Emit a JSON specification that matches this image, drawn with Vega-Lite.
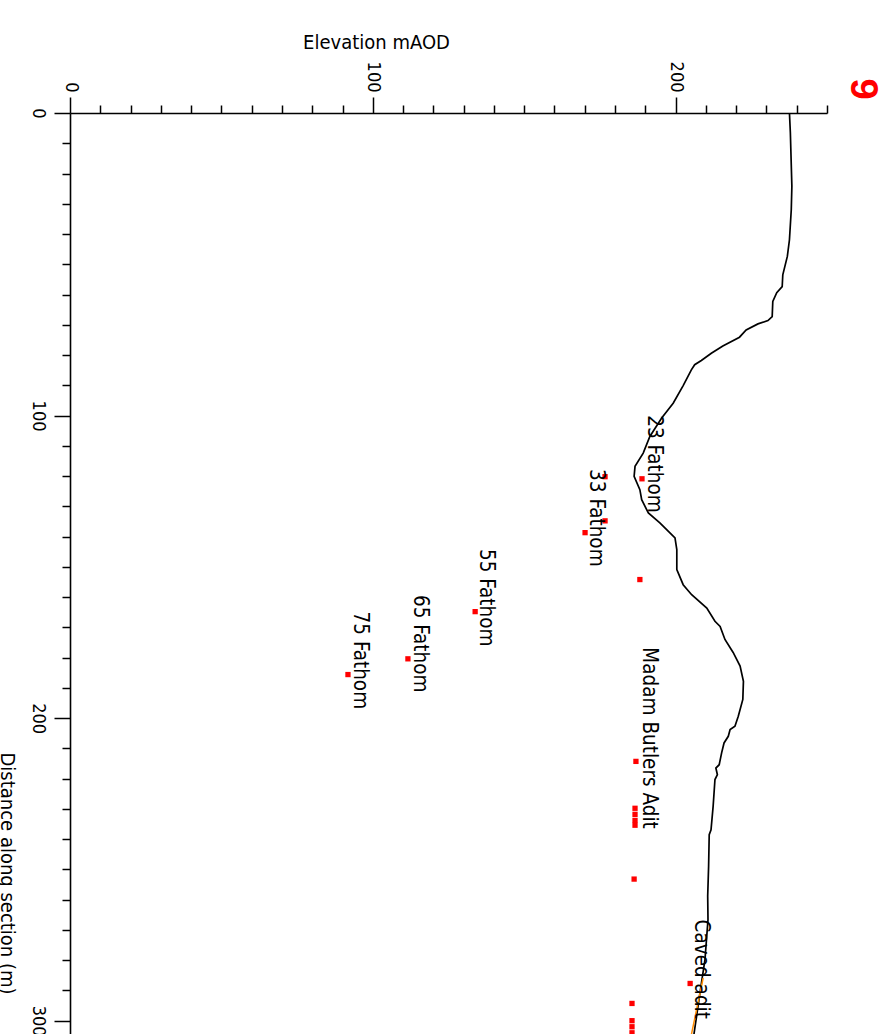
{
  "$schema": "https://vega.github.io/schema/vega-lite/v6.json",
  "autosize": {"type": "none"},
  "padding": {"left": 70, "top": 113, "right": 63, "bottom": 0},
  "width": 757,
  "height": 921,
  "background": "white",
  "config": {"view": {"stroke": null}, "font": "DejaVu Sans Condensed, DejaVu Sans"},
  "datasets": {
    "profile": [
      {"elevation": 237.6, "distance": 0}, {"elevation": 237.9, "distance": 6.5}, {"elevation": 238.4, "distance": 24.2}, {"elevation": 238.2, "distance": 32.0}, {"elevation": 237.6, "distance": 41.9}, {"elevation": 236.9, "distance": 47.4}, {"elevation": 235.4, "distance": 53.5}, {"elevation": 235.2, "distance": 57.4}, {"elevation": 233.4, "distance": 59.4}, {"elevation": 232.1, "distance": 62.3}, {"elevation": 231.9, "distance": 67.3}, {"elevation": 230.5, "distance": 68.6}, {"elevation": 227.2, "distance": 69.7}, {"elevation": 223.3, "distance": 71.7}, {"elevation": 221.1, "distance": 74.1}, {"elevation": 215.6, "distance": 77.0}, {"elevation": 211.8, "distance": 79.4}, {"elevation": 208.5, "distance": 81.8}, {"elevation": 206.3, "distance": 83.2}, {"elevation": 205.2, "distance": 84.9}, {"elevation": 202.5, "distance": 90.1}, {"elevation": 199.2, "distance": 95.9}, {"elevation": 195.4, "distance": 100.8}, {"elevation": 191.5, "distance": 106.9}, {"elevation": 189.3, "distance": 112.4}, {"elevation": 186.6, "distance": 116.8}, {"elevation": 186.3, "distance": 120.1}, {"elevation": 188.2, "distance": 124.5}, {"elevation": 188.8, "distance": 127.8}, {"elevation": 191.0, "distance": 132.2}, {"elevation": 194.8, "distance": 135.5}, {"elevation": 199.8, "distance": 140.4}, {"elevation": 200.4, "distance": 144.3}, {"elevation": 200.4, "distance": 150.9}, {"elevation": 202.5, "distance": 155.9}, {"elevation": 205.3, "distance": 159.2}, {"elevation": 210.3, "distance": 163.6}, {"elevation": 213.0, "distance": 168.0}, {"elevation": 214.7, "distance": 169.7}, {"elevation": 216.3, "distance": 174.0}, {"elevation": 219.0, "distance": 178.3}, {"elevation": 221.3, "distance": 182.8}, {"elevation": 222.4, "distance": 187.8}, {"elevation": 222.2, "distance": 193.8}, {"elevation": 220.7, "distance": 199.4}, {"elevation": 219.6, "distance": 202.7}, {"elevation": 218.0, "distance": 203.8}, {"elevation": 217.4, "distance": 206.0}, {"elevation": 216.0, "distance": 208.2}, {"elevation": 215.2, "distance": 211.5}, {"elevation": 214.4, "distance": 215.4}, {"elevation": 213.3, "distance": 216.5}, {"elevation": 213.8, "distance": 218.7}, {"elevation": 213.0, "distance": 220.3}, {"elevation": 212.4, "distance": 229.1}, {"elevation": 211.7, "distance": 236.9}, {"elevation": 211.1, "distance": 238.5}, {"elevation": 210.9, "distance": 249.0}, {"elevation": 210.6, "distance": 258.9}, {"elevation": 210.7, "distance": 266.6}, {"elevation": 209.7, "distance": 279.8}, {"elevation": 208.7, "distance": 286.4}, {"elevation": 207.4, "distance": 295.3}, {"elevation": 206.1, "distance": 304.2}, {"elevation": 205.4, "distance": 309.5}
    ],
    "adit": [
      {"elevation": 209.1, "distance": 285.9}, {"elevation": 205.3, "distance": 304.2}, {"elevation": 204.4, "distance": 309.5}
    ],
    "markers": [
      {"elevation": 188.9, "distance": 120.9}, {"elevation": 176.7, "distance": 120.2}, {"elevation": 176.7, "distance": 134.8}, {"elevation": 170.1, "distance": 138.7}, {"elevation": 188.2, "distance": 154.2}, {"elevation": 133.8, "distance": 164.8}, {"elevation": 111.6, "distance": 180.4}, {"elevation": 91.8, "distance": 185.6}, {"elevation": 186.9, "distance": 214.3}, {"elevation": 186.6, "distance": 229.8}, {"elevation": 186.6, "distance": 231.8}, {"elevation": 186.6, "distance": 233.8}, {"elevation": 186.6, "distance": 235.4}, {"elevation": 186.3, "distance": 253.2}, {"elevation": 204.8, "distance": 287.7}, {"elevation": 185.6, "distance": 294.3}, {"elevation": 185.6, "distance": 300.0}, {"elevation": 185.6, "distance": 302.0}, {"elevation": 185.6, "distance": 304.0}
    ],
    "labels": [
      {"elevation": 193.0, "distance": 116.0, "label": "23 Fathom"},
      {"elevation": 173.7, "distance": 133.8, "label": "33 Fathom"},
      {"elevation": 137.5, "distance": 160.2, "label": "55 Fathom"},
      {"elevation": 115.6, "distance": 175.4, "label": "65 Fathom"},
      {"elevation": 95.8, "distance": 180.9, "label": "75 Fathom"},
      {"elevation": 191.2, "distance": 206.6, "label": "Madam Butlers Adit"},
      {"elevation": 208.5, "distance": 283.0, "label": "Caved adit"}
    ],
    "section": [
      {"label": "9", "elevation": 261.5, "distance": -7.9}
    ]
  },
  "encoding": {
    "x": {"field": "elevation", "type": "quantitative",
      "scale": {"domain": [0, 250], "nice": false},
      "axis": {"orient": "top", "values": [0,10,20,30,40,50,60,70,80,90,100,110,120,130,140,150,160,170,180,190,200,210,220,230,240,250],
        "tickSize": {"condition": {"test": "datum.value % 100 === 0", "value": 16}, "value": 8},
        "labelExpr": "datum.value % 100 === 0 ? datum.label : ''",
        "labelOverlap": false, "labelAngle": 90, "labelAlign": "right", "labelBaseline": "middle",
        "labelPadding": 5, "labelFontSize": 18, "labelColor": "black",
        "grid": false, "domainColor": "black", "domainWidth": 1.6, "tickColor": "black", "tickWidth": 1.5,
        "title": "Elevation mAOD", "titleFontSize": 20, "titleFontWeight": "normal", "titleColor": "black",
        "titleX": 306, "titleY": -65, "titleAlign": "center", "titleBaseline": "alphabetic", "titleAngle": 0}},
    "y": {"field": "distance", "type": "quantitative",
      "scale": {"domain": [0, 304.4], "nice": false, "reverse": true},
      "axis": {"orient": "left", "values": [0,10,20,30,40,50,60,70,80,90,100,110,120,130,140,150,160,170,180,190,200,210,220,230,240,250,260,270,280,290,300],
        "tickSize": {"condition": {"test": "datum.value % 100 === 0", "value": 16}, "value": 8},
        "labelExpr": "datum.value % 100 === 0 ? datum.label : ''",
        "labelOverlap": false, "labelAngle": 90, "labelAlign": "center", "labelBaseline": "top",
        "labelPadding": 8, "labelFontSize": 18, "labelColor": "black",
        "grid": false, "domainColor": "black", "domainWidth": 1.6, "tickColor": "black", "tickWidth": 1.5,
        "title": "Distance along section (m)", "titleFontSize": 20, "titleFontWeight": "normal", "titleColor": "black",
        "titleX": -70, "titleY": 639, "titleAlign": "left", "titleBaseline": "alphabetic", "titleAngle": 90}}
  },
  "layer": [
    {"data": {"name": "profile"}, "mark": {"type": "line", "color": "black", "strokeWidth": 1.7, "clip": true},
     "encoding": {"order": {"field": "distance", "type": "quantitative"}}},
    {"data": {"name": "adit"}, "mark": {"type": "line", "color": "#ff8c00", "strokeWidth": 1.5, "clip": true},
     "encoding": {"order": {"field": "distance", "type": "quantitative"}}},
    {"data": {"name": "markers"}, "mark": {"type": "point", "shape": "square", "filled": true, "color": "#ff0000", "size": 28, "opacity": 1, "strokeWidth": 0, "clip": true}},
    {"data": {"name": "labels"}, "mark": {"type": "text", "angle": 90, "align": "center", "baseline": "middle", "fontSize": 20.5, "color": "black"},
     "encoding": {"text": {"field": "label", "type": "nominal"}}},
    {"data": {"name": "section"}, "mark": {"type": "text", "angle": 90, "align": "center", "baseline": "middle", "font": "Liberation Sans", "fontSize": 38, "fontWeight": "bold", "color": "#ff0000"},
     "encoding": {"text": {"field": "label", "type": "nominal"}}}
  ]
}
